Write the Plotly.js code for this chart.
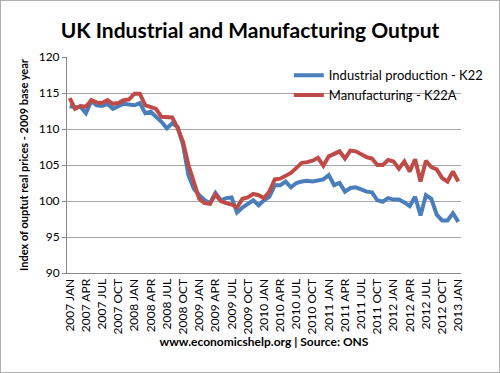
<!DOCTYPE html>
<html>
<head>
<meta charset="utf-8">
<script src="https://cdn.plot.ly/plotly-3.0.1.min.js"></script>
<style>
html,body{margin:0;padding:0;background:#fff;}
#wrap{position:relative;width:500px;height:373px;}
#chart{width:500px;height:373px;}
#frame{position:absolute;left:0;top:0;width:498px;height:371px;border:1px solid #b0b0b0;pointer-events:none;}
</style>
</head>
<body>
<div id="wrap"><div id="chart"></div><div id="frame"></div></div>
<script>
const years = ["2007","2008","2009","2010","2011","2012","2013"];
const monthNames = ["JAN","FEB","MAR","APR","MAY","JUN","JUL","AUG","SEP","OCT","NOV","DEC"];
const categories = [];
for (const y of years) {
  for (const m of monthNames) {
    if (categories.length < 73) categories.push(y + " " + m);
  }
}
const tickLabels = categories.filter((c, i) => i % 3 === 0);

const industrial = [
  113.2,113.0,113.1,112.2,113.9,113.3,113.2,113.5,112.8,113.2,113.5,113.4,
  113.3,113.6,112.2,112.4,111.7,111.0,110.1,110.8,110.3,107.8,103.6,101.7,
  100.8,100.1,99.7,101.1,100.1,100.4,100.5,98.4,99.1,99.6,100.1,99.4,
  100.1,100.6,102.2,102.2,102.7,101.9,102.5,102.7,102.8,102.7,102.8,103.0,
  103.6,102.2,102.5,101.3,101.8,101.9,101.6,101.3,101.2,100.1,99.9,100.4,
  100.2,100.2,99.8,99.3,100.6,98.0,100.8,100.3,98.1,97.3,97.3,98.3,
  97.1
];
const manufacturing = [
  114.3,112.8,113.2,113.1,114.0,113.7,113.6,114.0,113.5,113.6,114.0,114.1,
  114.9,114.9,113.3,113.0,112.8,111.7,111.6,111.6,110.1,108.2,105.0,102.6,
  100.3,99.7,99.6,100.9,100.0,99.7,99.5,99.1,100.3,100.5,101.0,100.8,
  100.4,101.3,103.0,103.1,103.5,103.9,104.6,105.3,105.4,105.6,106.0,104.9,
  106.2,106.5,106.9,105.9,107.0,106.9,106.5,106.1,105.9,105.0,105.0,105.7,
  105.5,104.5,105.5,104.1,105.8,102.7,105.6,104.7,104.4,103.2,102.7,104.1,
  102.7
];

const FONT = "Lato, 'Liberation Sans', sans-serif";

const traces = [
  {x: categories, y: industrial, type: "scatter", mode: "lines", name: "Industrial production - K22",
   line: {color: "#4a7ebb", width: 4}},
  {x: categories, y: manufacturing, type: "scatter", mode: "lines", name: "Manufacturing - K22A",
   line: {color: "#be4b48", width: 4}}
];

const layout = {
  width: 500, height: 373,
  margin: {l: 67, r: 14, t: 57, b: 100},
  paper_bgcolor: "#fff", plot_bgcolor: "#fff",
  font: {family: FONT, color: "#000", size: 12},
  title: {text: "<b>UK Industrial and Manufacturing Output</b>", font: {family: FONT, size: 21, color: "#000"},
          x: 0.5, xanchor: "center", y: 0.918, yanchor: "middle"},
  showlegend: true,
  legend: {x: 0.563, y: 0.985, xanchor: "left", yanchor: "top", bgcolor: "rgba(0,0,0,0)",
           font: {family: FONT, size: 13, color: "#000"}, tracegroupgap: 0},
  xaxis: {
    type: "category", range: [-0.5, 72.5],
    tickmode: "array", tickvals: tickLabels, ticktext: tickLabels,
    tickangle: -90, tickfont: {family: FONT, size: 12, color: "#000"},
    showgrid: false, showline: true, linecolor: "#888", linewidth: 1,
    ticks: "", zeroline: false,
    title: {text: "<b>www.economicshelp.org | Source: ONS</b>", font: {family: FONT, size: 12, color: "#000"}, standoff: 4}
  },
  yaxis: {
    range: [90, 120], tickmode: "array", tickvals: [90, 95, 100, 105, 110, 115, 120],
    tickfont: {family: FONT, size: 12, color: "#000"},
    showgrid: true, gridcolor: "#a6a6a6", gridwidth: 1,
    showline: true, linecolor: "#888", linewidth: 1,
    ticks: "outside", ticklen: 4, tickcolor: "#888", zeroline: false,
    title: {text: "<b>Index of ouptut real prices - 2009 base year</b>", font: {family: FONT, size: 11, color: "#000"}, standoff: 7}
  }
};

Plotly.newPlot("chart", traces, layout, {displayModeBar: false, staticPlot: true});
</script>
</body>
</html>
